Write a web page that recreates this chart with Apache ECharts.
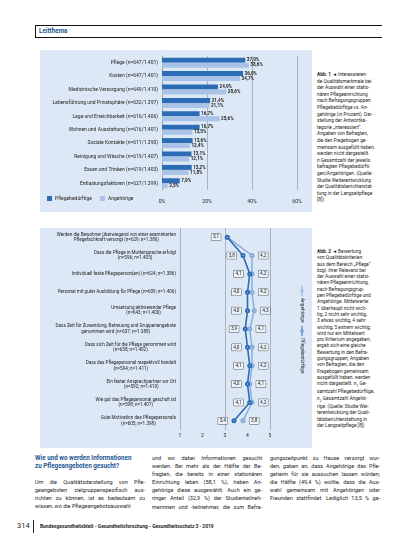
<!DOCTYPE html>
<html lang="de">
<head>
<meta charset="utf-8">
<title>Leitthema – Qualitätsdarstellung in der Pflege</title>
<script src="https://cdn.jsdelivr.net/npm/echarts@6/dist/echarts.min.js"></script>
<style>
  html, body { margin: 0; padding: 0; background: #fff; }
  body {
    position: relative; width: 413px; height: 550px; overflow: hidden;
    font-family: Roboto, "Noto Sans", sans-serif; color: #1e1e1e;
  }
  .rubric {
    position: absolute; left: 35px; top: 25px; width: 346px; height: 11px;
    border: 1px solid #111; border-right: none;
  }
  .rubric span {
    position: absolute; left: 3px; top: 1px;
    font-size: 6.3px; font-weight: bold; color: #1d5592;
  }
  .panel { position: absolute; left: 40px; width: 272px; background: #dce8f5; }
  #chart1 { top: 50px; height: 162px; }
  #chart2 { top: 228px; height: 220px; }
  .caption {
    position: absolute; left: 317px; width: 68px;
    font-size: 4.8px; color: #1e1e1e; white-space: nowrap;
  }
  #cap1 { top: 72px; line-height: 6.6px; }
  #cap2 { top: 249px; line-height: 6.3px; }
  .caption b { font-weight: bold; }
  .col {
    position: absolute; top: 454px; width: 110px;
    font-size: 5.5px; line-height: 8.1px; white-space: nowrap;
  }
  .col div { text-align: justify; text-align-last: justify; }
  .col div.last { text-align-last: left; }
  .col h3 {
    margin: 0 0 8px 0; font-size: 6.3px; line-height: 8.1px;
    font-weight: bold; color: #1d5592;
  }
  .col h3 div { text-align-last: left; }
  .footer { position: absolute; top: 520px; left: 17px; height: 13px; }
  .footer .page { position: absolute; left: 0; top: 1px; font-size: 7.5px; }
  .footer .bar { position: absolute; left: 16px; top: 0; width: 1px; height: 13px; background: #222; }
  .footer .journal {
    position: absolute; left: 23px; top: 3px; white-space: nowrap;
    font-size: 4.9px; font-weight: bold;
  }
</style>
</head>
<body>
  <div class="rubric"><span>Leitthema</span></div>

  <div id="chart1" class="panel"></div>
  <div id="cap1" class="caption">
    <div><b>Abb. 1</b> ◄ Interessieren-</div>
    <div>de Qualitätsmerkmale bei</div>
    <div>der Auswahl einer statio-</div>
    <div>nären Pflegeeinrichtung</div>
    <div>nach Befragungsgruppen</div>
    <div>Pflegebedürftige vs. An-</div>
    <div>gehörige (in Prozent). Dar-</div>
    <div>stellung der Antwortka-</div>
    <div>tegorie „interessiert“.</div>
    <div>Angaben von Befragten,</div>
    <div>die den Fragebogen ge-</div>
    <div>meinsam ausgefüllt haben,</div>
    <div>werden nicht dargestellt.</div>
    <div><i>n</i> Gesamtzahl der jeweils</div>
    <div>befragten Pflegebedürfti-</div>
    <div>gen/Angehörigen. (Quelle:</div>
    <div>Studie Weiterentwicklung</div>
    <div>der Qualitätsberichterstat-</div>
    <div>tung in der Langzeitpflege</div>
    <div>[8])</div>
  </div>

  <div id="chart2" class="panel"></div>
  <div id="cap2" class="caption">
    <div><b>Abb. 2</b> ◄ Bewertung</div>
    <div>von Qualitätskriterien</div>
    <div>aus dem Bereich „Pflege“</div>
    <div>bzgl. ihrer Relevanz bei</div>
    <div>der Auswahl einer statio-</div>
    <div>nären Pflegeeinrichtung,</div>
    <div>nach Befragungsgrup-</div>
    <div>pen Pflegebedürftige und</div>
    <div>Angehörige. Mittelwerte:</div>
    <div>1 überhaupt nicht wich-</div>
    <div>tig, 2 nicht sehr wichtig,</div>
    <div>3 etwas wichtig, 4 sehr</div>
    <div>wichtig, 5 extrem wichtig;</div>
    <div>wird nur ein Mittelwert</div>
    <div>pro Kriterium angegeben,</div>
    <div>ergab sich eine gleiche</div>
    <div>Bewertung in den Befra-</div>
    <div>gungsgruppen; Angaben</div>
    <div>von Befragten, die den</div>
    <div>Fragebogen gemeinsam</div>
    <div>ausgefüllt haben, werden</div>
    <div>nicht dargestellt. <i>n</i><sub style="font-size:3.5px">1</sub> Ge-</div>
    <div>samtzahl Pflegebedürftige,</div>
    <div><i>n</i><sub style="font-size:3.5px">2</sub> Gesamtzahl Angehö-</div>
    <div>rige. (Quelle: Studie Wei-</div>
    <div>terentwicklung der Quali-</div>
    <div>tätsberichterstattung in</div>
    <div>der Langzeitpflege [8])</div>
  </div>

  <div class="col" style="left:35px">
    <h3><div>Wie und wo werden Informationen</div><div>zu Pflegeangeboten gesucht?</div></h3>
    <div>Um die Qualitätsdarstellung von Pfle-</div>
    <div>geangeboten zielgruppenspezifisch aus-</div>
    <div>richten zu können, ist es bedeutsam zu</div>
    <div class="last">wissen, wo die Pflegeangebotsauswahl</div>
  </div>
  <div class="col" style="left:152px">
    <div>und wo dabei Informationen gesucht</div>
    <div>werden. Bei mehr als der Hälfte der Be-</div>
    <div>fragten, die bereits in einer stationären</div>
    <div>Einrichtung leben (58,1 %), haben An-</div>
    <div>gehörige diese ausgewählt. Auch ein ge-</div>
    <div>ringer Anteil (32,9 %) der Studienteilneh-</div>
    <div>merinnen und -teilnehmer, die zum Befra-</div>
  </div>
  <div class="col" style="left:270px">
    <div>gungszeitpunkt zu Hause versorgt wur-</div>
    <div>den, gaben an, dass Angehörige das Pfle-</div>
    <div>geheim für sie aussuchen lassen würden;</div>
    <div>die Hälfte (49,4 %) wollte, dass die Aus-</div>
    <div>wahl gemeinsam mit Angehörigen oder</div>
    <div>Freunden stattfindet. Lediglich 13,5 % ga-</div>
  </div>

  <div class="footer">
    <span class="page">314</span>
    <span class="bar"></span>
    <span class="journal">Bundesgesundheitsblatt - Gesundheitsforschung - Gesundheitsschutz 3 · 2019</span>
  </div>

<script>
// Abb. 1: interessierende Qualitätsmerkmale (in Prozent)
const barCategories = [
  'Pflege (n=647/1.401)',
  'Kosten (n=647/1.401)',
  'Medizinische Versorgung (n=649/1.410)',
  'Lebensführung und Privatsphäre (n=632/1.397)',
  'Lage und Erreichbarkeit (n=616/1.406)',
  'Wohnen und Ausstattung (n=616/1.401)',
  'Soziale Kontakte (n=611/1.390)',
  'Reinigung und Wäsche (n=619/1.407)',
  'Essen und Trinken (n=619/1.403)',
  'Entlastungsfaktoren (n=627/1.399)'
]
const careNeedyShare = [37.0, 36.0, 24.9, 21.4, 16.7, 16.7, 13.6, 13.1, 13.2, 7.9]
const relativesShare = [38.6, 34.7, 28.6, 21.1, 25.6, 13.5, 12.4, 12.1, 11.8, 2.5]
const shareTicks = [0, 20, 40, 60]

// Abb. 2: Bewertung der Qualitätskriterien (Mittelwerte 1–5)
const lineCategories = [
  'Werden die Bewohner überwiegend von einer examinierten\nPflegefachkraft versorgt (n=629; n=1.386)',
  'Dass die Pflege in Muttersprache erfolgt\n(n=596; n=1.405)',
  'Individuell feste Pflegeperson(en) (n=624; n=1.386)',
  'Personal mit guter Ausbildung für Pflege (n=609; n=1.406)',
  'Umsetzung aktivierender Pflege\n(n=643; n=1.400)',
  'Dass Zeit für Zuwendung, Betreuung und Gruppenangebote\ngenommen wird (n=637; n=1.388)',
  'Dass sich Zeit für die Pflege genommen wird\n(n=638; n=1.402)',
  'Dass das Pflegepersonal respektvoll handelt\n(n=594; n=1.411)',
  'Ein fester Ansprechpartner vor Ort\n(n=592; n=1.410)',
  'Wie gut das Pflegepersonal geschult ist\n(n=598; n=1.407)',
  'Gute Motivation des Pflegepersonals\n(n=605; n=1.398)'
]
const careNeedyMean = [3.1, 3.8, 4.1, 4.0, 4.0, 3.9, 4.0, 4.1, 4.0, 4.1, 3.4]
const relativesMean = [3.1, 4.2, 4.2, 4.2, 4.3, 4.1, 4.2, 4.2, 4.1, 4.2, 3.8]
const scaleTicks = [1, 2, 3, 4, 5]

const FONT = 'Roboto, "Noto Sans", sans-serif'
const DARK = '#2c6cb4'
const LIGHT = '#a9c3e6'
const LIGHT_LINE = '#86aadc'
const GRID = '#8d9bab'
const TEXT = '#1e1e1e'

const comma = v => v.toFixed(1).replace('.', ',')

/** Abb. 1 Balkendiagramm */
function initBar() {
  const chart = echarts.init(document.getElementById('chart1'))
  chart.setOption({
    animation: false,
    textStyle: { fontFamily: FONT },
    legend: {
      left: 2,
      bottom: 6,
      itemWidth: 5,
      itemHeight: 5,
      itemGap: 8,
      icon: 'rect',
      textStyle: { fontSize: 5, color: TEXT, padding: [0, 0, 0, -2] },
      data: ['Pflegebedürftige', 'Angehörige']
    },
    grid: { left: 122, right: 15, top: 6, bottom: 22 },
    xAxis: {
      type: 'value',
      min: shareTicks[0],
      max: shareTicks[shareTicks.length - 1],
      interval: shareTicks[1] - shareTicks[0],
      axisLine: { show: false },
      axisTick: { show: false },
      axisLabel: { fontSize: 5, color: TEXT, margin: 9, formatter: '{value}%' },
      splitLine: { lineStyle: { color: GRID, width: 0.7 } }
    },
    yAxis: {
      type: 'category',
      inverse: true,
      data: barCategories,
      axisLine: { lineStyle: { color: GRID, width: 0.7 } },
      axisTick: { length: 2, lineStyle: { color: GRID, width: 0.7 } },
      axisLabel: { fontSize: 5, color: TEXT, margin: 4 }
    },
    series: [
      {
        name: 'Pflegebedürftige',
        type: 'bar',
        data: careNeedyShare,
        barWidth: 5,
        barGap: '0%',
        itemStyle: { color: DARK },
        label: {
          show: true, position: 'right', distance: 1.5,
          fontSize: 4.6, fontWeight: 'bold', color: TEXT,
          formatter: p => comma(p.value) + '%'
        }
      },
      {
        name: 'Angehörige',
        type: 'bar',
        data: relativesShare,
        barWidth: 5,
        itemStyle: { color: LIGHT },
        label: {
          show: true, position: 'right', distance: 1.5,
          fontSize: 4.6, fontWeight: 'bold', color: TEXT,
          formatter: p => comma(p.value) + '%'
        }
      }
    ]
  })
}

/** Abb. 2 Liniendiagramm */
function initLine() {
  const chart = echarts.init(document.getElementById('chart2'))
  const boxLabel = {
    show: true, fontSize: 4.8, color: TEXT,
    backgroundColor: '#eef4fb', borderColor: '#555', borderWidth: 0.5,
    padding: [1, 1.5, 0.5, 1.5], distance: 4,
    formatter: p => comma(p.value)
  }
  // gleiche Bewertung in beiden Gruppen: nur ein Mittelwert wird angegeben
  const relativesData = relativesMean.map((v, i) =>
    v === careNeedyMean[i] ? { value: v, label: { show: false } } : v)

  const legendItem = (x, color, text) => [
    { type: 'line', shape: { x1: x, y1: 0, x2: x + 10, y2: 0 }, style: { stroke: color, lineWidth: 1 } },
    { type: 'circle', shape: { cx: x + 5, cy: 0, r: 1.3 }, style: { fill: '#dce8f5', stroke: color, lineWidth: 0.8 } },
    { type: 'text', x: x + 12, y: 0, style: { text: text, fontSize: 4.8, fontFamily: FONT, fill: TEXT, verticalAlign: 'middle' } }
  ]

  chart.setOption({
    animation: false,
    textStyle: { fontFamily: FONT },
    grid: { left: 140, right: 42, top: 0, bottom: 18 },
    xAxis: {
      type: 'value',
      min: scaleTicks[0],
      max: scaleTicks[scaleTicks.length - 1],
      interval: 1,
      axisLine: { show: false },
      axisTick: { show: false },
      axisLabel: { fontSize: 5, color: TEXT, margin: 3 },
      splitLine: { lineStyle: { color: [GRID, 'rgba(0,0,0,0)'], width: 0.7 } }
    },
    yAxis: {
      type: 'category',
      inverse: true,
      data: lineCategories,
      axisLine: { show: false },
      axisTick: { show: false },
      axisLabel: {
        margin: 4,
        formatter: v => v.split('\n').map(l => '{c|' + l + '}').join('\n'),
        rich: { c: { align: 'center', fontSize: 4.6, lineHeight: 5.4, color: TEXT, fontFamily: FONT } }
      }
    },
    series: [
      {
        name: 'Angehörige',
        type: 'line',
        data: relativesData,
        symbol: 'emptyCircle',
        symbolSize: 3,
        color: LIGHT_LINE,
        lineStyle: { width: 1.4, color: LIGHT_LINE },
        label: Object.assign({}, boxLabel, { position: 'right' }),
        z: 2
      },
      {
        name: 'Pflegebedürftige',
        type: 'line',
        data: careNeedyMean,
        symbol: 'emptyCircle',
        symbolSize: 3,
        color: DARK,
        lineStyle: { width: 1.6, color: DARK },
        label: Object.assign({}, boxLabel, { position: 'left' }),
        z: 3
      }
    ],
    graphic: [{
      type: 'group',
      x: 262,
      y: 58,
      rotation: -Math.PI / 2,
      children: legendItem(0, LIGHT_LINE, 'Angehörige').concat(legendItem(40, DARK, 'Pflegebedürftige'))
    }]
  })
}

initBar()
initLine()
</script>
</body>
</html>
